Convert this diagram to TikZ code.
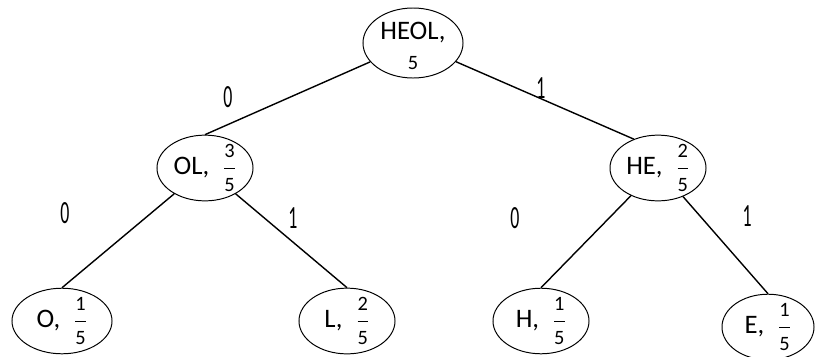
\documentclass[tikz,border=0pt]{standalone}
\usepackage{amsmath}
\usepackage{fontspec}
\setmainfont{Carlito}
\usetikzlibrary{shapes.geometric}
\newcommand{\fd}[1]{\text{\fontsize{14.5}{14.5}\selectfont #1}}
\newcommand{\frc}[2]{\enspace$\genfrac{}{}{1.1pt}{0}{\fd{#1}}{\fd{#2}}$}
\newcommand{\bitlbl}[1]{\scalebox{.55}[1]{\fontsize{23}{23}\selectfont #1}}
\begin{document}
\begin{tikzpicture}[x=.025cm,y=-.025cm,
  tnode/.style={ellipse,draw,line width=.7pt,inner sep=0pt,minimum width=2.4cm,minimum height=1.6cm,font=\fontsize{19}{22}\selectfont},
  branch/.style={line width=1pt},
  bit/.style={inner sep=0pt}]
\useasboundingbox (0,0) rectangle (816,356);
\node[tnode,minimum width=2.5cm,minimum height=1.75cm] (heol) at (413,43) {\raisebox{-18.5pt}[0pt][0pt]{\shortstack{HEOL,\\[6pt]{\fontsize{14.5}{14.5}\selectfont 5}}}};
\node[tnode] (ol) at (205,168) {OL,\frc{3}{5}};\node[tnode] (he) at (658,168) {HE,\frc{2}{5}};
\node[tnode,minimum width=2.5cm] (o) at (62,321) {O,\frc{1}{5}};\node[tnode] (l) at (347,321) {L,\frc{2}{5}};
\node[tnode] (h) at (541,321) {H,\frc{1}{5}};\node[tnode,minimum width=2.3cm] (e) at (768,327) {E,\frc{1}{5}};
\draw[branch] (heol) -- (ol.north);\draw[branch] (heol) -- (he.130);
\draw[branch] (ol) -- (o.north);\draw[branch] (ol) -- (l.north);
\draw[branch] (he) -- (h.north);\draw[branch] (he) -- (e.north);
\node[bit] (b-ol) at (228,97) {\bitlbl{0}};\node[bit] (b-he) at (541,88) {\bitlbl{1}};
\node[bit] (b-o) at (65,213) {\bitlbl{0}};\node[bit] (b-l) at (293,218) {\bitlbl{1}};
\node[bit] (b-h) at (515,218) {\bitlbl{0}};\node[bit] (b-e) at (747,216) {\bitlbl{1}};
\end{tikzpicture}
\end{document}
